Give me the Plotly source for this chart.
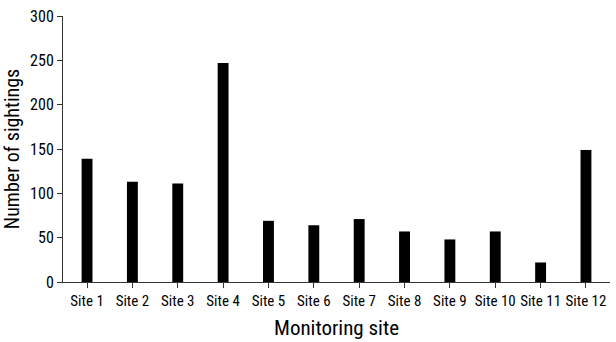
import plotly.graph_objects as go

sites = ["Site 1", "Site 2", "Site 3", "Site 4", "Site 5", "Site 6",
         "Site 7", "Site 8", "Site 9", "Site 10", "Site 11", "Site 12"]
sightings = [139, 113, 111, 247, 69, 64, 71, 57, 48, 57, 22, 149]
y_ticks = [0, 50, 100, 150, 200, 250, 300]

FONT = "Liberation Sans Narrow, Roboto Condensed, DejaVu Sans Condensed, sans-serif"

fig = go.Figure(go.Bar(x=sites, y=sightings, marker=dict(color="black", line=dict(width=0))))

fig.update_layout(
    width=616, height=342,
    margin=dict(l=63, r=6, t=16, b=60),
    paper_bgcolor="white", plot_bgcolor="white",
    bargap=0.76,
    showlegend=False,
    font=dict(family=FONT, color="black"),
)
fig.update_xaxes(
    range=[-0.53, 11.53],
    showline=True, linecolor="#333", linewidth=1,
    ticks="outside", ticklen=5, tickcolor="#333",
    tickfont=dict(size=15, family=FONT, color="black"),
    title=dict(text="Monitoring site", font=dict(size=21, family=FONT, color="black"), standoff=11),
    showgrid=False, zeroline=False,
)
fig.update_yaxes(
    range=[0, 300], tickvals=y_ticks,
    showline=True, linecolor="#333", linewidth=1,
    ticks="outside", ticklen=5, tickcolor="#333",
    tickfont=dict(size=16, family=FONT, color="black"),
    title=dict(text="Number of sightings", font=dict(size=20, family=FONT, color="black"), standoff=6),
    showgrid=False, zeroline=False,
)

fig.write_html("out.html", config={"displayModeBar": False},
               post_script="document.body.style.margin='0';")
